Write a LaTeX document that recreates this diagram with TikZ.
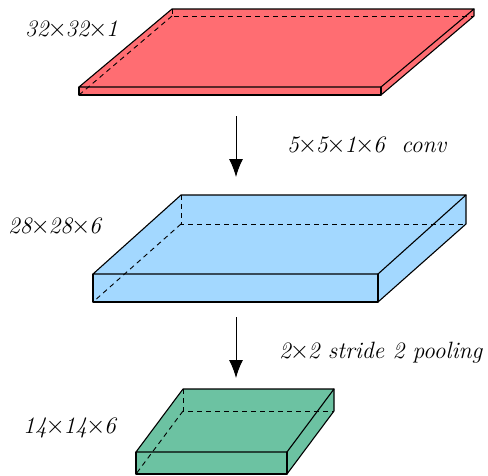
\documentclass[tikz,border=0pt]{standalone}
\usetikzlibrary{arrows.meta}
\definecolor{redbox}{HTML}{FF6D72}
\definecolor{bluebox}{HTML}{A3D8FF}
\definecolor{greenbox}{HTML}{6CC2A2}
\newcommand{\tm}{\hspace{-1.25pt}$\times$\hspace{-1.25pt}}
\tikzset{
  edge/.style={line width=1.1pt,line join=round,line cap=round},
  hidden/.style={line width=0.9pt,dash pattern=on 5pt off 4pt},
  lbl/.style={inner sep=0pt,anchor=base west,font=\fontsize{23.6}{27}\selectfont\itshape},
  flow/.style={line width=1pt,-{Latex[length=18pt,width=14pt]}}
}
\newcommand{\cuboid}[9]{%
  \fill[#1] (#2,#4) -- (#6,#8) -- (#7,#8) -- (#7,#9) -- (#3,#5) -- (#2,#5) -- cycle;
  \draw[hidden] (#6,#8) -- (#6,#9) -- (#7,#9);
  \draw[hidden] (#6,#9) -- (#2,#5);
  \draw[edge] (#2,#4) -- (#6,#8) -- (#7,#8) -- (#3,#4) -- cycle;
  \draw[edge] (#2,#4) -- (#2,#5) -- (#3,#5) -- (#3,#4);
  \draw[edge] (#3,#5) -- (#7,#9) -- (#7,#8);
}
\begin{document}
\begin{tikzpicture}[x=1pt,y=-1pt]
\useasboundingbox (0,0) rectangle (488,475);
\cuboid{redbox}{79}{381}{87}{95}{172}{474}{9}{16}
\cuboid{bluebox}{93}{378}{274}{302}{181}{466}{195}{224}
\cuboid{greenbox}{136}{287}{452}{474}{183}{334}{389}{411}
\node[lbl] (l1) at (25,36.5) {32\tm32\tm1};
\node[lbl] (l2) at (8,233) {28\tm28\tm6};
\node[lbl] (l3) at (23,433) {14\tm14\tm6};
\node[lbl] (t1) at (287,152.5) {5\tm5\tm1\tm6\hspace{0.7em}conv};
\node[lbl] (t2) at (279,358.5) {2\tm2 stride 2 pooling};
\coordinate (a1) at (236,116);
\coordinate (b1) at (236,177);
\coordinate (a2) at (236,317);
\coordinate (b2) at (236,378);
\draw[flow] (a1) -- (b1);
\draw[flow] (a2) -- (b2);
\end{tikzpicture}
\end{document}
